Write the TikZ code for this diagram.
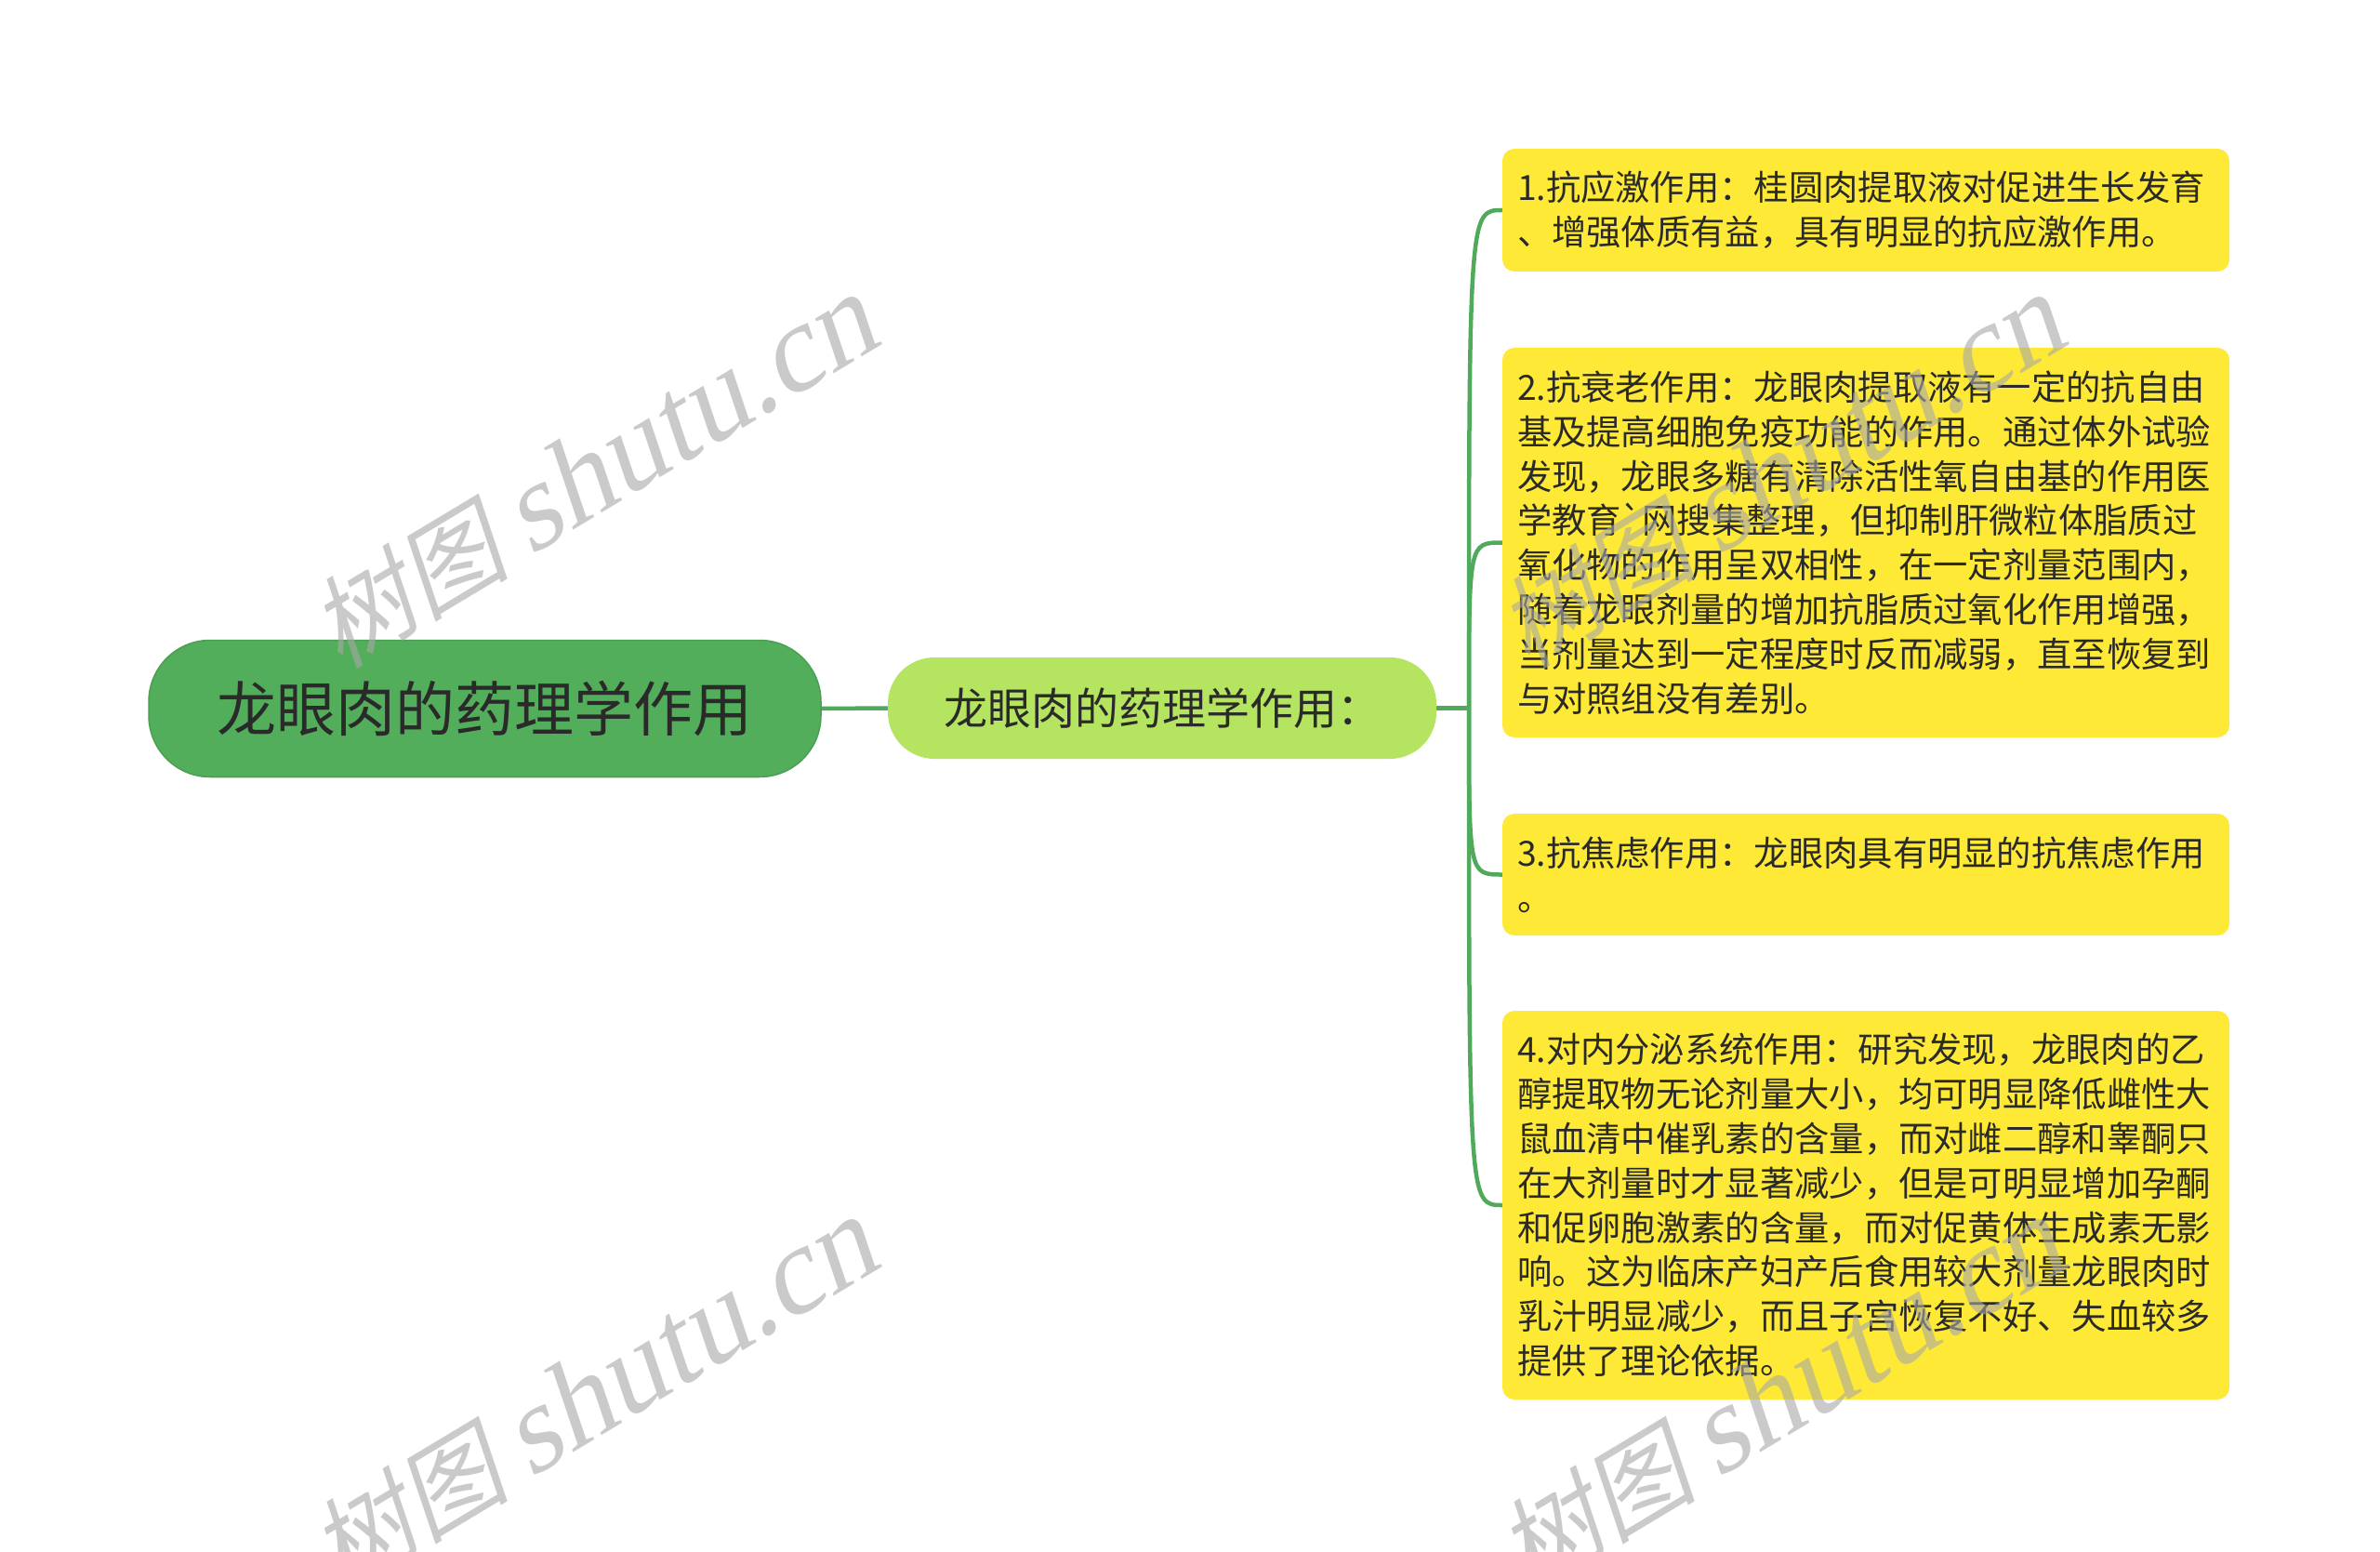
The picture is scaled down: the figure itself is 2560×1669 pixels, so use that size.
\documentclass[tikz,border=0pt]{standalone}
\usepackage{fontspec}
\newfontfamily\cjk{Noto Sans CJK SC}
\newfontfamily\wmlat{Liberation Serif}
\definecolor{rootg}{HTML}{53AE5B}
\definecolor{rootb}{HTML}{4A9F52}
\definecolor{subg}{HTML}{B4E460}
\definecolor{leafy}{HTML}{FDE936}
\definecolor{conng}{HTML}{4FAA5C}
\definecolor{txt}{HTML}{2A2A2A}
\definecolor{wmgray}{HTML}{A8A8A8}
\tikzset{
  rootnode/.style={rectangle, rounded corners=66pt, fill=rootg, draw=rootb, line width=1.5pt,
    text=txt, font=\cjk\fontsize{64}{76}\selectfont, inner sep=0pt},
  subnode/.style={rectangle, rounded corners=50pt, fill=subg, text=txt,
    font=\cjk\fontsize{47}{56}\selectfont, inner sep=0pt},
  leaf/.style={rectangle, rounded corners=13pt, fill=leafy, text=txt,
    font=\cjk\fontsize{37.3}{47.8}\selectfont, text width=750pt, align=left,
    inner xsep=16pt, inner ysep=0pt, minimum width=782pt},
  conn/.style={draw=conng, line width=4.5pt},
  wm/.style={text=wmgray, opacity=0.6, rotate=31, xslant=0.22, inner sep=0pt},
  wmtext/.style={font=\cjk\fontsize{108}{130}\selectfont}
}
\newcommand{\wmark}{\cjk\fontsize{108}{130}\selectfont 树图\hspace{22pt}\wmlat\fontsize{132}{140}\selectfont shutu.cn}
\begin{document}
\begin{tikzpicture}[x=1pt,y=-1pt]
\useasboundingbox (0,0) rectangle (2560,1669);
\fill[white] (0,0) rectangle (2560,1669);

\node[rootnode, minimum width=723pt, minimum height=147pt] (root) at (521.5,762) {龙眼肉的药理学作用};
\node[subnode, minimum width=590pt, minimum height=109pt] (sub) at (1250,761.5) {龙眼肉的药理学作用：};
\coordinate (fork) at (1580,761.5);

\node[leaf, minimum height=132pt] (l1) at (2007,226) {1.抗应激作用：桂圆肉提取液对促进生长发育\\、增强体质有益，具有明显的抗应激作用。};
\node[leaf, minimum height=419pt] (l2) at (2007,583.5) {2.抗衰老作用：龙眼肉提取液有一定的抗自由\\基及提高细胞免疫功能的作用。通过体外试验\\发现，龙眼多糖有清除活性氧自由基的作用医\\学教育`网搜集整理，但抑制肝微粒体脂质过\\氧化物的作用呈双相性，在一定剂量范围内，\\随着龙眼剂量的增加抗脂质过氧化作用增强，\\当剂量达到一定程度时反而减弱，直至恢复到\\与对照组没有差别。};
\node[leaf, minimum height=131pt] (l3) at (2007,940.5) {3.抗焦虑作用：龙眼肉具有明显的抗焦虑作用\\。};
\node[leaf, minimum height=418pt] (l4) at (2007,1296) {4.对内分泌系统作用：研究发现，龙眼肉的乙\\醇提取物无论剂量大小，均可明显降低雌性大\\鼠血清中催乳素的含量，而对雌二醇和睾酮只\\在大剂量时才显著减少，但是可明显增加孕酮\\和促卵胞激素的含量，而对促黄体生成素无影\\响。这为临床产妇产后食用较大剂量龙眼肉时\\乳汁明显减少，而且子宫恢复不好、失血较多\\提供了理论依据。};

\draw[conn] (root.east) -- (sub.west);
\draw[conn] (sub.east) -- (fork);
\draw[conn] (fork) .. controls (fork |- l1.west) .. (l1.west);
\draw[conn] (fork) .. controls (fork |- l2.west) .. (l2.west);
\draw[conn] (fork) .. controls (fork |- l3.west) .. (l3.west);
\draw[conn] (fork) .. controls (fork |- l4.west) .. (l4.west);

\node[wm] (wm1) at (645,505) {\wmark};
\node[wm] (wm2) at (645,1497) {\wmark};
\node[wm] (wm3) at (1922,505) {\wmark};
\node[wm] (wm4) at (1922,1497) {\wmark};
\end{tikzpicture}
\end{document}
